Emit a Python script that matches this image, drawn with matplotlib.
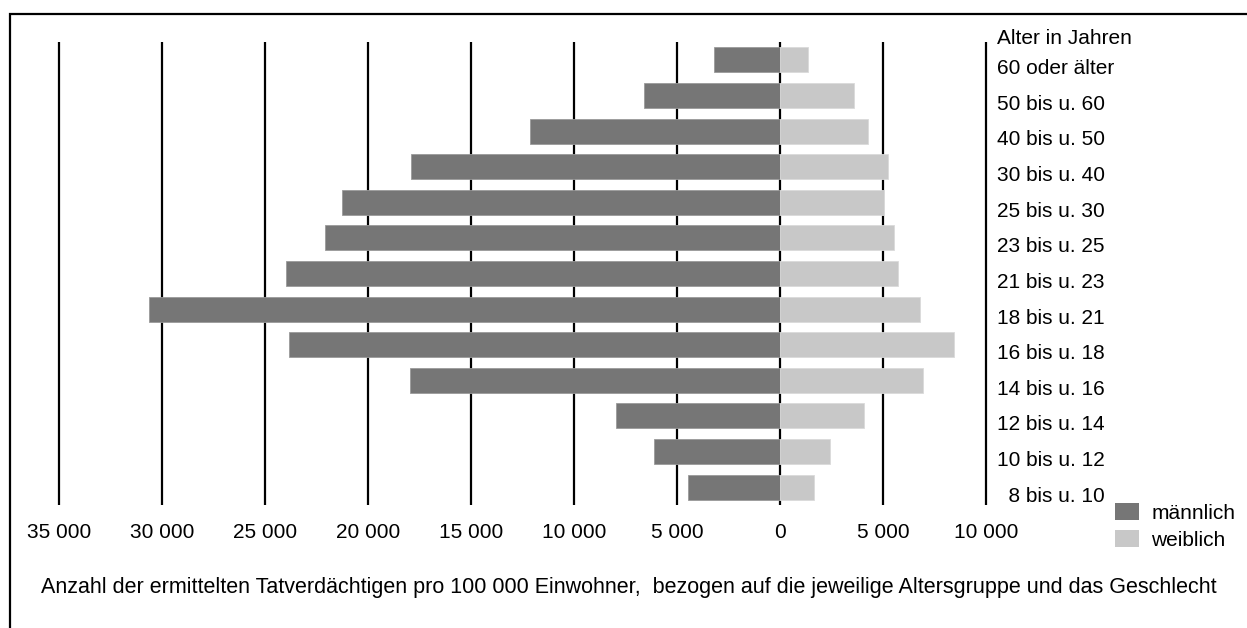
import matplotlib
matplotlib.use("Agg")
import matplotlib.pyplot as plt
from matplotlib.patches import Rectangle, Patch

plt.rcParams['font.family'] = ['Liberation Sans', 'DejaVu Sans']

# Altersgruppen (von oben nach unten)
gruppen = ["60 oder älter", "50 bis u. 60", "40 bis u. 50", "30 bis u. 40",
           "25 bis u. 30", "23 bis u. 25", "21 bis u. 23", "18 bis u. 21",
           "16 bis u. 18", "14 bis u. 16", "12 bis u. 14", "10 bis u. 12",
           "  8 bis u. 10"]

# Tatverdächtige pro 100 000 Einwohner
maennlich = [3200, 6600, 12150, 17900, 21250, 22100, 24000, 30650,
             23850, 17950, 7950, 6100, 4450]
weiblich = [1350, 3600, 4280, 5250, 5060, 5550, 5750, 6800,
            8470, 6960, 4100, 2420, 1650]

x_ticks = [-35000, -30000, -25000, -20000, -15000, -10000, -5000, 0, 5000, 10000]
x_labels = ["35 000", "30 000", "25 000", "20 000", "15 000", "10 000",
            "5 000", "0", "5 000", "10 000"]

c_m = "#767676"
c_w = "#c8c8c8"
fs = 15

fig = plt.figure(figsize=(12.47, 6.28), dpi=100)
W, H = 1247, 628
ax = fig.add_axes([28.1 / W, (H - 505) / H, 968.2 / W, 463 / H])

y = list(range(len(gruppen)))
ax.barh(y, [-v for v in maennlich], height=0.7, color=c_m,
        edgecolor="#9a9a9a", linewidth=0.6, zorder=2)
ax.barh(y, weiblich, height=0.7, color=c_w,
        edgecolor="#dadada", linewidth=0.6, zorder=2)

ax.set_xlim(-36500, 10500)
ax.set_ylim(len(gruppen) - 0.5, -0.5)

# senkrechte Linien
for xt in x_ticks:
    ax.axvline(xt, color="black", linewidth=1.6, zorder=1)

ax.set_xticks(x_ticks)
ax.set_xticklabels(x_labels, fontsize=fs)
ax.tick_params(axis="x", length=0, pad=13)
ax.set_yticks([])
for s in ax.spines.values():
    s.set_visible(False)

# Beschriftung der Altersgruppen rechts
for i, g in enumerate(gruppen):
    ax.text(10530, i + 0.25, g, fontsize=fs, ha="left", va="center",
            clip_on=False)
ax.text(10530, -0.6, "Alter in Jahren", fontsize=fs, ha="left",
        va="center", clip_on=False)

# Legende
handles = [Patch(facecolor=c_m, edgecolor="none", label="männlich"),
           Patch(facecolor=c_w, edgecolor="none", label="weiblich")]
fig.legend(handles=handles, loc="upper left",
           bbox_to_anchor=(1115 / W, 1 - 503 / H), frameon=False,
           fontsize=fs, handlelength=1.15, handleheight=0.87,
           handletextpad=0.6, labelspacing=0.35, borderpad=0,
           borderaxespad=0)

fig.text(629 / W, 1 - 587 / H,
         "Anzahl der ermittelten Tatverdächtigen pro 100 000 Einwohner,  "
         "bezogen auf die jeweilige Altersgruppe und das Geschlecht",
         fontsize=15.5, ha="center", va="center")

# Rahmen
fig.patches.append(Rectangle((10 / W, -0.1), 1.1, 1.1 - 14 / H,
                             transform=fig.transFigure, fill=False,
                             edgecolor="black", linewidth=1.6))

fig.savefig("out.png", dpi=100)
